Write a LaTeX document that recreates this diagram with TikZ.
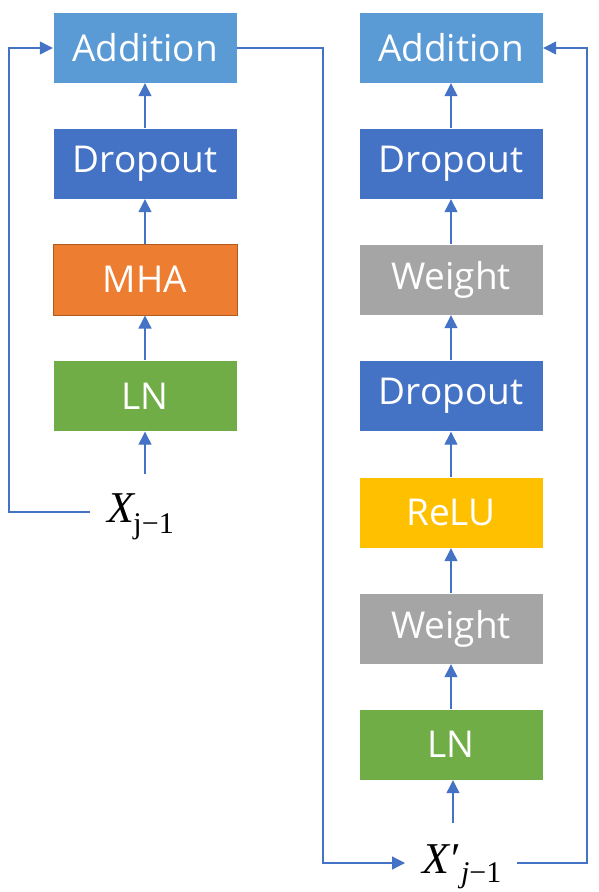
\documentclass[tikz,border=0pt]{standalone}
\usepackage{fontspec}
\setmainfont{Open Sans}
\newfontfamily\lserif{Liberation Serif}
\usetikzlibrary{arrows.meta}
\definecolor{addc}{HTML}{5B9BD5}
\definecolor{dropc}{HTML}{4472C4}
\definecolor{mhac}{HTML}{ED7D31}
\definecolor{mhab}{HTML}{AE5A21}
\definecolor{lnc}{HTML}{70AD47}
\definecolor{wc}{HTML}{A5A5A5}
\definecolor{reluc}{HTML}{FFC000}
\definecolor{linec}{HTML}{4472C4}
\tikzset{
  blk/.style={minimum width=184pt, minimum height=71pt, inner sep=0pt, text=white,
    font=\fontsize{37}{44}\selectfont, draw=white, line width=0.4pt},
  conn/.style={draw=linec, line width=1.3pt},
  arr/.style={conn, -{Triangle[length=13pt,width=13pt]}},
  lbl/.style={inner sep=0pt, font=\lserif\fontsize{44}{50}\selectfont},
}
\newcommand{\subsz}{\lserif\fontsize{30}{34}\selectfont}
\begin{document}
\begin{tikzpicture}[x=1pt,y=-1pt]
\useasboundingbox (0,0) rectangle (598,892);
% left column
\node[blk, fill=addc] (addL) at (145,47.5) {Addition};
\node[blk, fill=dropc] (dropL) at (145,163.5) {Dropout};
\node[blk, fill=mhac, draw=mhab, line width=1pt] (mha) at (145,279.5) {MHA};
\node[blk, fill=lnc] (lnL) at (145,396) {LN};
\node[lbl, anchor=base west] (xl) at (107,522) {\textit{X}\kern-2pt\raisebox{-11pt}{\subsz j−1}};
% right column
\node[blk, fill=addc] (addR) at (451,47.5) {Addition};
\node[blk, fill=dropc] (dropR2) at (451,163.5) {Dropout};
\node[blk, fill=wc] (wR2) at (451,279.5) {Weight};
\node[blk, fill=dropc] (dropR1) at (451,396) {Dropout};
\node[blk, fill=reluc] (relu) at (451,512.5) {ReLU};
\node[blk, fill=wc] (wR1) at (451,628.5) {Weight};
\node[blk, fill=lnc] (lnR) at (451,744.5) {LN};
\node[lbl, anchor=base west] (xr) at (422,873) {\textit{X}\kern1pt′\raisebox{-9pt}{\subsz\textit{j}−1}};
% coordinates
\coordinate (xlin) at (145,474);
\coordinate (xlout) at (90,512);
\coordinate (c1) at (9,512);
\coordinate (c2) at (9,48);
\coordinate (c3) at (323,48);
\coordinate (c4) at (323,863);
\coordinate (xrin) at (405,863);
\coordinate (xrup) at (453,823);
\coordinate (xrout) at (517,863);
\coordinate (c5) at (587,863);
\coordinate (c6) at (587,48);
% left arrows
\draw[arr] (xlin) -- (lnL.south);
\draw[arr] (lnL.north) -- (mha.south);
\draw[arr] (mha.north) -- (dropL.south);
\draw[arr] (dropL.north) -- (addL.south);
\draw[arr] (xlout) -- (c1) -- (c2) -- (addL.west |- c2);
% right arrows
\draw[arr] (xrup) -- (lnR.south -| xrup);
\draw[arr] (lnR.north) -- (wR1.south);
\draw[arr] (wR1.north) -- (relu.south);
\draw[arr] (relu.north) -- (dropR1.south);
\draw[arr] (dropR1.north) -- (wR2.south);
\draw[arr] (wR2.north) -- (dropR2.south);
\draw[arr] (dropR2.north) -- (addR.south);
\draw[arr] (addL.east |- c3) -- (c3) -- (c4) -- (xrin);
\draw[arr] (xrout) -- (c5) -- (c6) -- (addR.east |- c6);
\end{tikzpicture}
\end{document}
